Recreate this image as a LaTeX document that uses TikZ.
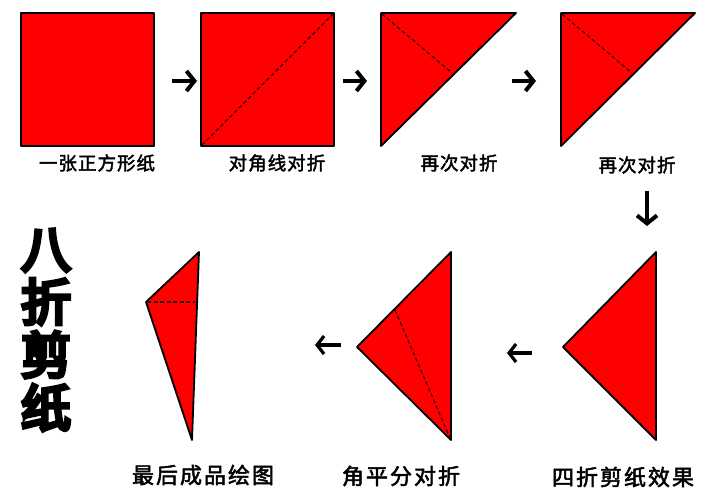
\documentclass[tikz,border=0pt]{standalone}
\usepackage{fontspec}
\newfontfamily\cjk{Noto Sans CJK SC}[FakeBold=2.2]
\newfontfamily\cjktitle{Noto Sans CJK SC}[FakeBold=8]
\usetikzlibrary{arrows.meta}
\definecolor{paper}{RGB}{255,0,0}
\newcommand{\gap}{\hspace{1pt}}
\newcommand{\wgap}{\hspace{2pt}}
\tikzset{
  sheet/.style={fill=paper,draw=black,line width=1.8pt,line join=round},
  fold/.style={draw=black!85!red,line width=1.1pt,dash pattern=on 4pt off 2.5pt},
  lbl/.style={font=\cjk\fontsize{18.5}{18.5}\selectfont,inner sep=0pt,anchor=center},
  lblbig/.style={font=\cjk\fontsize{22}{22}\selectfont,inner sep=0pt,anchor=center},
  stepar/.style={line width=4pt,-{Straight Barb[length=8pt,width=20pt]}},
  stepsm/.style={line width=3.2pt,-{Straight Barb[length=7pt,width=18pt]}}
}
\begin{document}
\begin{tikzpicture}[x=1pt,y=-1pt]
\useasboundingbox (0,0) rectangle (708,500);
% step 1
\draw[sheet] (21,13) rectangle (154,146);
\node[lbl] (l1) at (97,163) {一\gap 张\gap 正\gap 方\gap 形\gap 纸};
% step 2
\draw[sheet] (201,13) rectangle (334,146);
\draw[fold] (202,145) -- (333,14);
\node[lbl] (l2) at (277,163) {对\gap 角\gap 线\gap 对\gap 折};
% step 3
\draw[sheet] (381,13) -- (516,13) -- (381,146) -- cycle;
\draw[fold] (382,14) -- (452,73);
\node[lbl] (l3) at (459,163) {再\gap 次\gap 对\gap 折};
% step 4
\draw[sheet] (561,13) -- (695,13) -- (561,146) -- cycle;
\draw[fold] (562,14) -- (632,73);
\node[lbl] (l4) at (637,165) {再\gap 次\gap 对\gap 折};
% step 5
\draw[sheet] (656,252) -- (563,347) -- (656,440) -- cycle;
\node[lblbig] (l5) at (623,477) {四\wgap 折\wgap 剪\wgap 纸\wgap 效\wgap 果};
% step 6
\draw[sheet] (451,252) -- (357,347) -- (451,440) -- cycle;
\draw[fold] (395,310) -- (450,438);
\node[lblbig] (l6) at (401,476) {角\wgap 平\wgap 分\wgap 对\wgap 折};
% step 7
\draw[sheet] (199,252) -- (146,302) -- (192,440) -- cycle;
\draw[fold] (147,302) -- (195,302);
\node[lblbig] (l7) at (203,475) {最\wgap 后\wgap 成\wgap 品\wgap 绘\wgap 图};
% title
\node[font=\cjktitle\fontsize{50}{53}\selectfont,align=center,inner sep=0pt] (title) at (46,330) {八\\折\\剪\\纸};
% arrows
\coordinate (a1s) at (172,81); \coordinate (a1e) at (197,81);
\coordinate (a2s) at (343,81); \coordinate (a2e) at (367,81);
\coordinate (a3s) at (512,81); \coordinate (a3e) at (536,81);
\coordinate (a4s) at (647,191); \coordinate (a4e) at (647,226);
\coordinate (a5s) at (532,353); \coordinate (a5e) at (507,353);
\coordinate (a6s) at (341,345); \coordinate (a6e) at (315,345);
\draw[stepar] (a1s) -- (a1e);
\draw[stepar] (a2s) -- (a2e);
\draw[stepar] (a3s) -- (a3e);
\draw[stepar] (a4s) -- (a4e);
\draw[stepsm] (a5s) -- (a5e);
\draw[stepsm] (a6s) -- (a6e);
\end{tikzpicture}
\end{document}
